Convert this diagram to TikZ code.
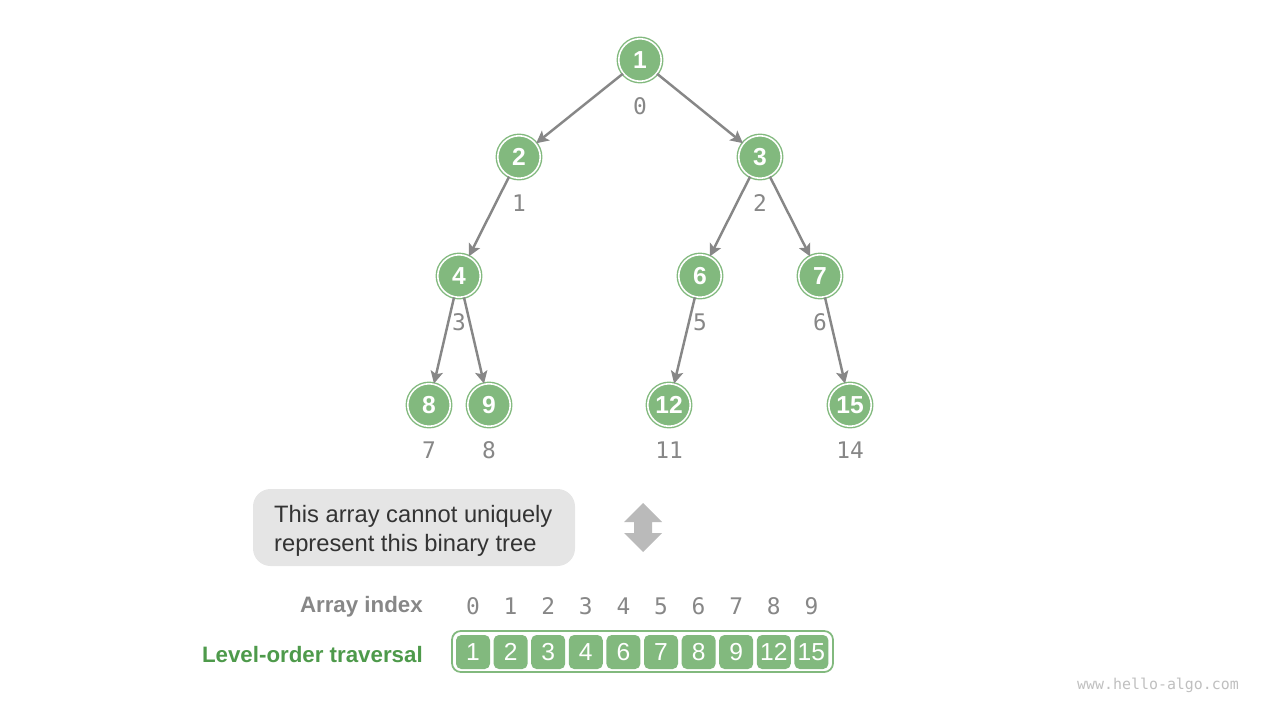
\documentclass[tikz,border=0pt]{standalone}
\usepackage{fontspec}
\setmainfont{Liberation Sans}
\setmonofont{DejaVu Sans Mono}
\usetikzlibrary{arrows.meta}
\definecolor{treegreen}{HTML}{82B97E}
\definecolor{labelgreen}{HTML}{4E9A4B}
\definecolor{edgegray}{HTML}{878787}
\definecolor{boxgray}{HTML}{E5E5E5}
\begin{document}
\begin{tikzpicture}[x=0.02cm, y=-0.02cm, >={Stealth[length=7pt, width=7pt, inset=1.5pt]},
		tnode/.style={circle, fill=treegreen, draw=treegreen, double=white, double distance=0.9pt, line width=0.8pt, minimum size=0.85cm, inner sep=0pt, text=white, font=\bfseries\fontsize{14}{14}\selectfont},
		idx/.style={text=edgegray, font=\ttfamily\fontsize{13}{13}\selectfont},
		edge/.style={draw=edgegray, line width=1.4pt, ->},
		cell/.style={rectangle, rounded corners=3pt, fill=treegreen, minimum width=0.68cm, minimum height=0.68cm, inner sep=0pt, text=white, font=\fontsize{14}{14}\selectfont}]
		\useasboundingbox (0,0) rectangle (1280,720);
		% tree
		\node[tnode] (n1) at (640,60) {1};
		\node[tnode] (n2) at (519,157) {2};
		\node[tnode] (n3) at (760,157) {3};
		\node[tnode] (n4) at (459,276) {4};
		\node[tnode] (n6) at (700,276) {6};
		\node[tnode] (n7) at (820,276) {7};
		\node[tnode] (n8) at (429,405) {8};
		\node[tnode] (n9) at (489,405) {9};
		\node[tnode] (n12) at (669,405) {12};
		\node[tnode] (n15) at (850,405) {15};
		\draw[edge] (n1) -- (n2);
		\draw[edge] (n1) -- (n3);
		\draw[edge] (n2) -- (n4);
		\draw[edge] (n3) -- (n6);
		\draw[edge] (n3) -- (n7);
		\draw[edge] (n4) -- (n8);
		\draw[edge] (n4) -- (n9);
		\draw[edge] (n6) -- (n12);
		\draw[edge] (n7) -- (n15);
		% indices under the nodes
		\node[idx] (i0) at (640,106) {0};
		\node[idx] (i1) at (519,203) {1};
		\node[idx] (i2) at (760,203) {2};
		\node[idx] (i3) at (459,322) {3};
		\node[idx] (i5) at (700,322) {5};
		\node[idx] (i6) at (820,322) {6};
		\node[idx] (i7) at (429,450) {7};
		\node[idx] (i8) at (489,450) {8};
		\node[idx] (i11) at (669,450) {11};
		\node[idx] (i14) at (850,450) {14};
		% note and arrow
		\fill[boxgray, rounded corners=10] (253,489) rectangle (575,566);
		\node[anchor=west, align=left, text=black!80, font=\fontsize{13.5}{16.5}\selectfont] (note) at (268,531) {This array cannot uniquely\\represent this binary tree};
		\fill[black!27] (643,503) -- (662,522) -- (652,522) -- (652,533) -- (662,533) -- (643,552) -- (624,533) -- (634,533) -- (634,522) -- (624,522) -- cycle;
		% array
		\node[anchor=east, text=edgegray, font=\bfseries\fontsize{12.7}{12.7}\selectfont] (arrlabel) at (429,607) {Array index};
		\node[anchor=east, text=labelgreen, font=\bfseries\fontsize{12.7}{12.7}\selectfont] (trlabel) at (429,655) {Level-order traversal};
		\draw[treegreen, line width=1pt, fill=white, rounded corners=5] (452,631) rectangle (833,672);
		\foreach \v [count=\i from 0] in {1,2,3,4,6,7,8,9,12,15} {
			\node[idx] (a\i) at (473+37.6*\i,606) {\i};
			\node[cell] (c\i) at (473+37.6*\i,652) {\v};
		}
		\node[text=black!25, font=\ttfamily\fontsize{8.5}{8.5}\selectfont] (site) at (1158,685) {www.hello-algo.com};
\end{tikzpicture}
\end{document}
